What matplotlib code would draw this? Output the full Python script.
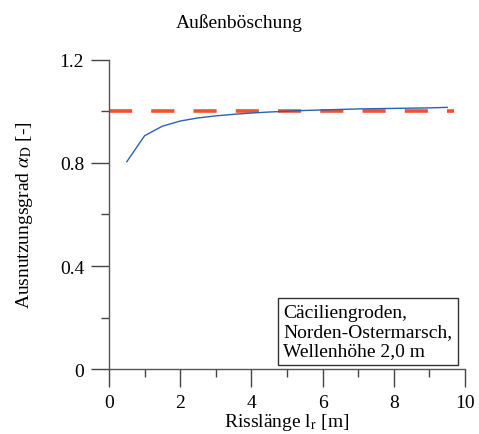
import matplotlib
matplotlib.use("Agg")
import matplotlib.pyplot as plt
from matplotlib.ticker import MultipleLocator, FixedLocator

plt.rcParams["font.family"] = ["Liberation Serif", "DejaVu Serif"]
plt.rcParams["mathtext.fontset"] = "stix"

# Auslastung über die Risslänge
risslaenge = [0.5, 1.0, 1.5, 2.0, 2.5, 3.0, 3.5, 4.0, 4.5, 5.0,
              5.5, 6.0, 6.5, 7.0, 7.5, 8.0, 8.5, 9.0, 9.5]
ausnutzung = [0.805, 0.906, 0.943, 0.963, 0.975, 0.983, 0.989, 0.994, 0.998, 1.001,
              1.004, 1.006, 1.008, 1.010, 1.011, 1.012, 1.013, 1.014, 1.016]
grenze_x = [0.0, 9.7]
grenze_y = [1.0, 1.0]

y_ticks = [0, 0.4, 0.8, 1.2]
y_labels = ["0", "0.4", "0.8", "1.2"]
x_ticks = [0, 2, 4, 6, 8, 10]

fig = plt.figure(figsize=(4.79, 4.35), dpi=100)
ax = fig.add_axes([0.2276, 0.1494, 0.7432, 0.7104])

ax.plot(grenze_x, grenze_y, color="#f0512f", lw=2.6, dashes=(6.4, 5.3), zorder=2)
ax.plot(risslaenge, ausnutzung, color="#2862b4", lw=1.0, zorder=3)

ax.set_xlim(0, 10)
ax.set_ylim(0, 1.2)
ax.yaxis.set_major_locator(FixedLocator(y_ticks))
ax.set_yticklabels(y_labels)
ax.yaxis.set_minor_locator(MultipleLocator(0.2))
ax.xaxis.set_major_locator(FixedLocator(x_ticks))
ax.xaxis.set_minor_locator(MultipleLocator(1))

for side in ("top", "right"):
    ax.spines[side].set_visible(False)
for side in ("left", "bottom"):
    ax.spines[side].set_color("#555555")
    ax.spines[side].set_linewidth(1.0)

ax.tick_params(which="major", direction="out", length=13, width=1.0,
               color="#444444", labelsize=14, pad=5)
ax.tick_params(which="minor", direction="out", length=6, width=1.0, color="#444444")

ax.set_xlabel(r"Risslänge l$_\mathrm{r}$ [m]", fontsize=14, labelpad=0)
ax.set_ylabel(r"Ausnutzungsgrad $\alpha_\mathrm{D}$ [-]", fontsize=14, labelpad=18)

fig.text(0.5, 0.947, "Außenböschung", ha="center", va="center", fontsize=14)

ax.text(0.49, 0.032,
        "Cäciliengroden,\nNorden-Ostermarsch,\nWellenhöhe 2,0 m",
        transform=ax.transAxes, ha="left", va="bottom", fontsize=14,
        linespacing=1.15,
        bbox=dict(boxstyle="square,pad=0.3", fc="white", ec="#333333", lw=1.0))

fig.savefig("out.png", dpi=100)
